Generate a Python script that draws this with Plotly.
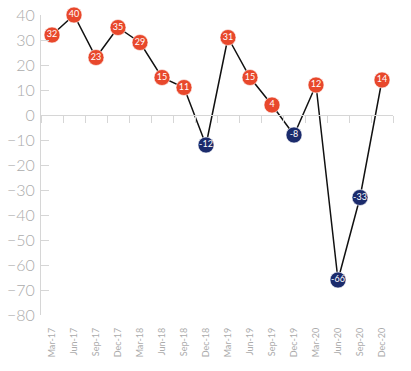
import plotly.graph_objects as go
import numpy as np

quarters = ["Mar-17", "Jun-17", "Sep-17", "Dec-17", "Mar-18", "Jun-18", "Sep-18", "Dec-18",
            "Mar-19", "Jun-19", "Sep-19", "Dec-19", "Mar-20", "Jun-20", "Sep-20", "Dec-20"]
balance = [32, 40, 23, 35, 29, 15, 11, -12, 31, 15, 4, -8, 12, -66, -33, 14]
y_ticks = [40, 30, 20, 10, 0, -10, -20, -30, -40, -50, -60, -70, -80]

POS = "#E8482C"
NEG = "#1B2B6C"
colors = [POS if v >= 0 else NEG for v in balance]
idx = list(range(len(quarters)))
boundaries = np.arange(len(quarters) + 1) - 0.5

fig = go.Figure()
# invisible trace to activate the zero-line axis
fig.add_trace(go.Scatter(x=[boundaries[0]], y=[0], xaxis="x2", mode="markers",
                         marker=dict(opacity=0), hoverinfo="skip", showlegend=False))
fig.add_trace(go.Scatter(
    x=idx, y=balance, mode="lines+markers+text",
    text=[str(v) for v in balance], textposition="middle center",
    textfont=dict(color="white", size=9, family="Lato"),
    line=dict(color="#111111", width=1.5),
    marker=dict(size=16, color=colors, line=dict(color="rgba(255,255,255,0.6)", width=1)),
    cliponaxis=False, hoverinfo="skip",
))

fig.update_layout(
    width=411, height=371, autosize=False,
    margin=dict(l=41, r=18, t=15, b=56, pad=0, autoexpand=False),
    plot_bgcolor="white", paper_bgcolor="white",
    showlegend=False,
    xaxis=dict(
        range=[-0.5, len(quarters) - 0.5], tickmode="array", tickvals=idx, ticktext=quarters,
        tickangle=-90, ticks="", showline=False, showgrid=False, zeroline=False, automargin=False,
        tickfont=dict(size=9, color="#ababab", family="Lato"), ticklabelstandoff=10,
    ),
    xaxis2=dict(
        overlaying="x", anchor="free", position=80 / 120, side="bottom", automargin=False,
        range=[-0.5, len(quarters) - 0.5], tickmode="array", tickvals=list(boundaries),
        showticklabels=False, ticks="outside", ticklen=7, tickcolor="#d6d6d6", tickwidth=1,
        showline=True, linecolor="#d6d6d6", linewidth=1, showgrid=False, zeroline=False,
    ),
    yaxis=dict(
        range=[-80, 40], tickmode="array", tickvals=y_ticks, automargin=False,
        ticks="inside", ticklen=8, tickcolor="#d6d6d6", tickwidth=1,
        showline=True, linecolor="#d6d6d6", linewidth=1, showgrid=False, zeroline=False,
        tickfont=dict(size=16, color="#ababab", family="Lato", weight=300),
        ticklabelstandoff=2,
    ),
)
fig.write_html("out.html", config={"displayModeBar": False},
               post_script="document.body.style.margin='0';")
